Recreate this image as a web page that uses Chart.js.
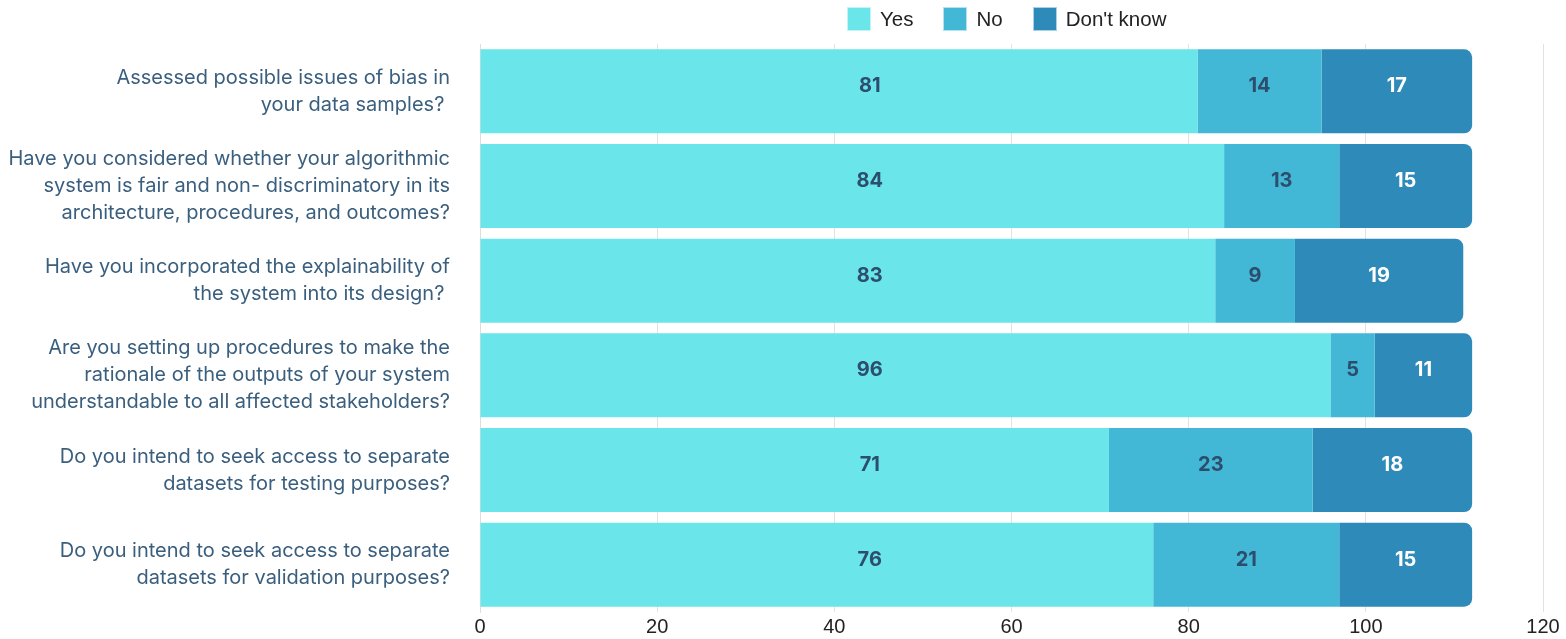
<!DOCTYPE html>
<html>
<head>
<meta charset="utf-8">
<script src="https://cdn.jsdelivr.net/npm/chart.js@4.4.0/dist/chart.umd.min.js"></script>
<style>
    html, body { margin: 0; padding: 0; background: #fff; }
    #wrap { width: 1566px; height: 639px; position: relative; }
    #legend {
        position: absolute; top: 7px; left: 847px;
        display: flex; align-items: center;
        font: 20.5px "Liberation Sans", Arial, sans-serif; color: #222;
    }
    .legend-item { display: flex; align-items: center; margin-right: 30px; }
    .legend-box { width: 24px; height: 24px; margin-right: 9px; box-sizing: border-box; border: 1px solid rgba(255,255,255,0.6); }
</style>
</head>
<body>
<div id="wrap">
    <canvas id="surveyChart"></canvas>
    <div id="legend"></div>
</div>
<script>
// Datos del gráfico
const questions = [
    ['Assessed possible issues of bias in', 'your data samples? '],
    ['Have you considered whether your algorithmic', 'system is fair and non- discriminatory in its', 'architecture, procedures, and outcomes?'],
    ['Have you incorporated the explainability of', 'the system into its design? '],
    ['Are you setting up procedures to make the', 'rationale of the outputs of your system', 'understandable to all affected stakeholders?'],
    ['Do you intend to seek access to separate', 'datasets for testing purposes?'],
    ['Do you intend to seek access to separate', 'datasets for validation purposes?']
];
const yesValues = [81, 84, 83, 96, 71, 76];
const noValues = [14, 13, 9, 5, 23, 21];
const dontKnowValues = [17, 15, 19, 11, 18, 15];
const xTicks = [0, 20, 40, 60, 80, 100, 120];

const seriesLabels = ['Yes', 'No', "Don't know"];
const seriesColors = ['#6ae5ea', '#42b8d6', '#2d8ab9'];
const valueColors = ['#2c4e6c', '#2c4e6c', '#ffffff'];

// En el original, las etiquetas de "Yes" quedan todas en la misma columna
const YES_LABEL_AT = 44;
// y un poco por encima del centro de la barra
const LABEL_LIFT = 5;

// Leyenda en HTML
const legendEl = document.getElementById('legend');
seriesLabels.forEach((name, i) => {
    const item = document.createElement('div');
    item.className = 'legend-item';
    item.innerHTML = `<span class="legend-box" style="background:${seriesColors[i]}"></span><span>${name}</span>`;
    legendEl.appendChild(item);
});

// Etiquetas de valores dentro de cada segmento
const valueLabels = {
    id: 'valueLabels',
    afterDatasetsDraw(chart) {
        const ctx = chart.ctx;
        const xScale = chart.scales.x;
        ctx.save();
        ctx.font = '700 20px Inter';
        ctx.textAlign = 'center';
        ctx.textBaseline = 'middle';
        chart.data.datasets.forEach((ds, i) => {
            const meta = chart.getDatasetMeta(i);
            meta.data.forEach((bar, j) => {
                const p = bar.getProps(['x', 'y', 'base']);
                const x = i === 0 ? xScale.getPixelForValue(YES_LABEL_AT) : (p.x + p.base) / 2;
                ctx.fillStyle = valueColors[i];
                ctx.fillText(ds.data[j], x, p.y - LABEL_LIFT);
            });
        });
        ctx.restore();
    }
};

new Chart(document.getElementById('surveyChart'), {
    type: 'bar',
    data: {
        labels: questions,
        datasets: [yesValues, noValues, dontKnowValues].map((vals, i) => ({
            label: seriesLabels[i],
            data: vals,
            backgroundColor: seriesColors[i],
            borderRadius: 8,
            borderSkipped: 'start',
            barPercentage: 0.887,
            categoryPercentage: 1
        }))
    },
    options: {
        indexAxis: 'y',
        responsive: true,
        maintainAspectRatio: false,
        animation: false,
        layout: { padding: { left: 10, right: 23, top: 44, bottom: 0 } },
        plugins: {
            legend: { display: false },
            tooltip: { enabled: false }
        },
        scales: {
            x: {
                stacked: true,
                min: 0,
                max: 120,
                afterBuildTicks: (scale) => { scale.ticks = xTicks.map(v => ({ value: v })); },
                afterFit: (scale) => { scale.height = 27; },
                grid: { color: '#e2e2e2', drawTicks: false },
                border: { display: false },
                ticks: {
                    font: { family: 'Liberation Sans', size: 20 },
                    color: '#222',
                    padding: 3
                }
            },
            y: {
                stacked: true,
                grid: { display: false },
                border: { display: true, color: '#dddddd' },
                afterFit: (scale) => {
                    scale.width = 470;
                    scale.paddingTop = 0;
                    scale.paddingBottom = 0;
                },
                ticks: {
                    font: { family: 'Inter', size: 20, lineHeight: 1.35 },
                    color: '#3a5f7e',
                    padding: 22
                }
            }
        }
    },
    plugins: [valueLabels]
});
</script>
</body>
</html>
